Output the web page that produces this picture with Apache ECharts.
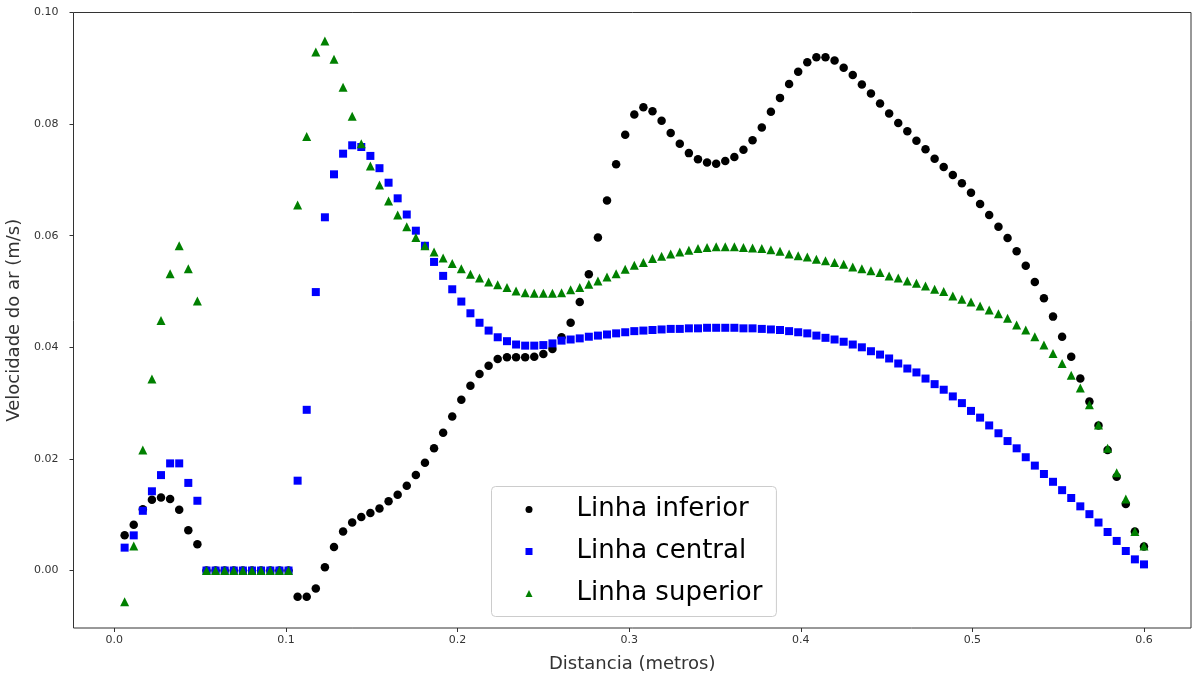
<!DOCTYPE html>
<html>
<head>
<meta charset="utf-8">
<title>Velocidade do ar</title>
<script src="https://cdn.jsdelivr.net/npm/echarts@6.0.0/dist/echarts.min.js"></script>
<style>
  html, body { margin: 0; padding: 0; background: #fff; }
  #chart { width: 1193px; height: 677px; }
</style>
</head>
<body>
<div id="chart"></div>
<script>
// distancia ao longo da linha (metros)
var distancia = [
  0.0060, 0.0113, 0.0166, 0.0219, 0.0272, 0.0325, 0.0378, 0.0431, 0.0484, 0.0537,
  0.0590, 0.0643, 0.0696, 0.0749, 0.0802, 0.0855, 0.0909, 0.0962, 0.1015, 0.1068,
  0.1121, 0.1174, 0.1227, 0.1280, 0.1333, 0.1386, 0.1439, 0.1492, 0.1545, 0.1598,
  0.1651, 0.1704, 0.1757, 0.1810, 0.1863, 0.1916, 0.1969, 0.2022, 0.2075, 0.2128,
  0.2181, 0.2234, 0.2288, 0.2341, 0.2394, 0.2447, 0.2500, 0.2553, 0.2606, 0.2659,
  0.2712, 0.2765, 0.2818, 0.2871, 0.2924, 0.2977, 0.3030, 0.3083, 0.3136, 0.3189,
  0.3242, 0.3295, 0.3348, 0.3401, 0.3454, 0.3507, 0.3560, 0.3613, 0.3666, 0.3719,
  0.3773, 0.3826, 0.3879, 0.3932, 0.3985, 0.4038, 0.4091, 0.4144, 0.4197, 0.4250,
  0.4303, 0.4356, 0.4409, 0.4462, 0.4515, 0.4568, 0.4621, 0.4674, 0.4727, 0.4780,
  0.4833, 0.4886, 0.4939, 0.4992, 0.5045, 0.5098, 0.5152, 0.5205, 0.5258, 0.5311,
  0.5364, 0.5417, 0.5470, 0.5523, 0.5576, 0.5629, 0.5682, 0.5735, 0.5788, 0.5841,
  0.5894, 0.5947, 0.6000
]

// velocidade do ar (m/s) em cada linha
var linhaInferior = [
  0.0063, 0.0082, 0.0110, 0.0127, 0.0131, 0.0128, 0.0109, 0.0072, 0.0047,
  0, 0, 0, 0, 0, 0, 0, 0, 0, 0,
  -0.0047, -0.0047, -0.0032, 0.0006, 0.0042, 0.0070, 0.0086, 0.0096, 0.0103, 0.0111, 0.0124, 0.0136,
  0.0152, 0.0171, 0.0193, 0.0219, 0.0247, 0.0276, 0.0306, 0.0331, 0.0352,
  0.0367, 0.0379, 0.0382, 0.0382, 0.0382, 0.0383, 0.0388, 0.0397, 0.0418, 0.0444, 0.0481, 0.0531,
  0.0597, 0.0663, 0.0728, 0.0781, 0.0817, 0.0830, 0.0823, 0.0806,
  0.0784, 0.0765, 0.0748, 0.0737, 0.0731, 0.0729, 0.0734, 0.0741, 0.0754, 0.0771, 0.0794,
  0.0822, 0.0847, 0.0872, 0.0894, 0.0911, 0.0920, 0.0920, 0.0914,
  0.0901, 0.0888, 0.0871, 0.0855, 0.0837, 0.0819, 0.0802, 0.0787, 0.0770, 0.0755, 0.0738, 0.0723,
  0.0709, 0.0694, 0.0677, 0.0657, 0.0637, 0.0616, 0.0596, 0.0572, 0.0546, 0.0517, 0.0488, 0.0455,
  0.0419, 0.0383, 0.0344, 0.0303, 0.0260, 0.0216, 0.0168, 0.0119, 0.0070, 0.0043
]

var linhaCentral = [
  0.0041, 0.0063, 0.0107, 0.0142, 0.0171, 0.0192, 0.0192, 0.0157, 0.0125,
  0, 0, 0, 0, 0, 0, 0, 0, 0, 0,
  0.0161, 0.0288, 0.0499, 0.0633, 0.0710, 0.0747, 0.0762, 0.0759, 0.0743, 0.0721, 0.0695,
  0.0667, 0.0638, 0.0609, 0.0582, 0.0553, 0.0528, 0.0504, 0.0482, 0.0461, 0.0444,
  0.0430, 0.0418, 0.0411, 0.0405, 0.0403, 0.0403, 0.0404, 0.0407, 0.0412, 0.0414,
  0.0416, 0.0419, 0.0421, 0.0423, 0.0425, 0.0427, 0.0429, 0.0430, 0.0431, 0.0432,
  0.0433, 0.0433, 0.0434, 0.0434, 0.0435, 0.0435, 0.0435, 0.0435, 0.0434, 0.0434, 0.0433, 0.0432,
  0.0431, 0.0429, 0.0427, 0.0425, 0.0421, 0.0417, 0.0414, 0.0410, 0.0405, 0.0400,
  0.0393, 0.0387, 0.0380, 0.0371, 0.0362, 0.0355, 0.0344, 0.0334, 0.0324, 0.0312,
  0.0300, 0.0286, 0.0274, 0.0260, 0.0246, 0.0232, 0.0219, 0.0203, 0.0188, 0.0173,
  0.0159, 0.0144, 0.0130, 0.0115, 0.0101, 0.0086, 0.0069, 0.0053, 0.0035, 0.0020, 0.0011
]

var linhaSuperior = [
  -0.0056, 0.0044, 0.0216, 0.0343, 0.0448, 0.0532, 0.0582, 0.0541, 0.0483,
  0, 0, 0, 0, 0, 0, 0, 0, 0, 0,
  0.0655, 0.0778, 0.0929, 0.0949, 0.0916, 0.0866, 0.0814, 0.0765, 0.0725, 0.0691, 0.0662,
  0.0637, 0.0616, 0.0597, 0.0582, 0.0571, 0.0560, 0.0550, 0.0541, 0.0531, 0.0524,
  0.0517, 0.0512, 0.0507, 0.0501, 0.0498, 0.0497, 0.0497, 0.0497, 0.0498, 0.0503,
  0.0507, 0.0513, 0.0519, 0.0526, 0.0532, 0.0540, 0.0547, 0.0552, 0.0559, 0.0563,
  0.0567, 0.0571, 0.0574, 0.0577, 0.0579, 0.0580, 0.0580, 0.0580, 0.0579, 0.0578,
  0.0577, 0.0575, 0.0572,
  0.0567, 0.0564, 0.0562, 0.0558, 0.0555, 0.0552, 0.0549, 0.0544, 0.0541, 0.0537,
  0.0534, 0.0528, 0.0524, 0.0519, 0.0515, 0.0510, 0.0504, 0.0500, 0.0492, 0.0486,
  0.0481, 0.0474, 0.0467, 0.0460, 0.0452, 0.0440, 0.0431, 0.0419, 0.0404, 0.0389,
  0.0371, 0.0350, 0.0327, 0.0297, 0.0261, 0.0219, 0.0175, 0.0128, 0.0070, 0.0044
]

var xTicks = [0.0, 0.1, 0.2, 0.3, 0.4, 0.5, 0.6]
var yTicks = [0.00, 0.02, 0.04, 0.06, 0.08, 0.10]

function pares (ys) {
  return ys.map(function (y, i) { return [distancia[i], y] })
}

var fonte = 'DejaVu Sans'
var chart = echarts.init(document.getElementById('chart'))

var option = {
  animation: false,
  textStyle: { fontFamily: fonte },
  grid: {
    left: 73.5,
    right: 2,
    top: 12.5,
    bottom: 49,
    containLabel: false,
    outerBoundsMode: 'none',
    show: true,
    borderColor: '#333',
    borderWidth: 1
  },
  legend: {
    orient: 'vertical',
    left: 491.5,
    top: 486.5,
    padding: [8, 14, 8, 34],
    itemGap: 12,
    itemWidth: 7,
    itemHeight: 7,
    backgroundColor: 'rgba(255,255,255,0.8)',
    borderColor: '#cccccc',
    borderWidth: 1,
    borderRadius: 4,
    textStyle: {
      fontFamily: fonte,
      fontSize: 26,
      color: '#000',
      lineHeight: 30,
      padding: [0, 0, 0, 39]
    },
    data: ['Linha inferior', 'Linha central', 'Linha superior']
  },
  xAxis: {
    type: 'value',
    min: -0.0238,
    max: 0.6274,
    name: 'Distancia (metros)',
    nameLocation: 'middle',
    nameGap: 27,
    nameTextStyle: { fontFamily: fonte, fontSize: 18, color: '#333' },
    axisLine: { show: false, onZero: false },
    axisTick: { customValues: xTicks, length: 4, lineStyle: { color: '#333' } },
    axisLabel: {
      customValues: xTicks,
      margin: 7,
      fontSize: 11,
      color: '#333',
      formatter: function (v) { return v.toFixed(1) }
    },
    splitLine: { show: false }
  },
  yAxis: {
    type: 'value',
    min: -0.0103,
    max: 0.1,
    name: 'Velocidade do ar (m/s)',
    nameLocation: 'middle',
    nameGap: 46,
    nameTextStyle: { fontFamily: fonte, fontSize: 18, color: '#333' },
    axisLine: { show: false, onZero: false },
    axisTick: { customValues: yTicks, length: 4, lineStyle: { color: '#333' } },
    axisLabel: {
      customValues: yTicks,
      margin: 15,
      fontSize: 11,
      color: '#333',
      formatter: function (v) { return v.toFixed(2) }
    },
    splitLine: { show: false }
  },
  series: [
    {
      name: 'Linha inferior',
      type: 'scatter',
      symbol: 'circle',
      symbolSize: 8.5,
      itemStyle: { color: '#000000', opacity: 1 },
      data: pares(linhaInferior)
    },
    {
      name: 'Linha central',
      type: 'scatter',
      symbol: 'rect',
      symbolSize: 8,
      itemStyle: { color: '#0000ff', opacity: 1 },
      data: pares(linhaCentral)
    },
    {
      name: 'Linha superior',
      type: 'scatter',
      symbol: 'triangle',
      symbolSize: 9,
      itemStyle: { color: '#008000', opacity: 1 },
      data: pares(linhaSuperior)
    }
  ]
}

chart.setOption(option)
</script>
</body>
</html>
